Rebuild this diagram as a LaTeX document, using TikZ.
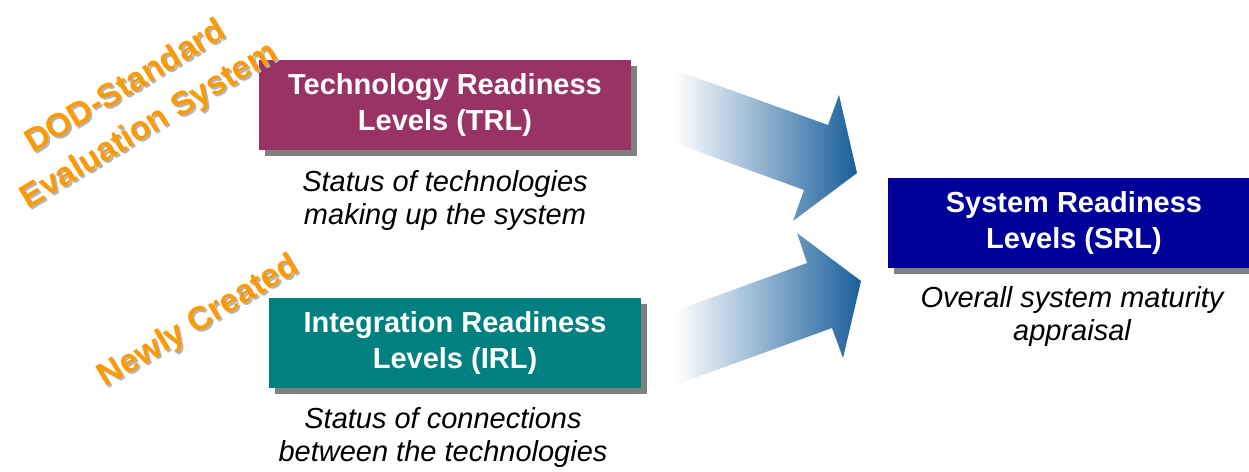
\documentclass[tikz,border=0pt]{standalone}
\usepackage{fontspec}
\setmainfont{Liberation Sans}
\definecolor{trlcol}{HTML}{993366}
\definecolor{irlcol}{HTML}{008080}
\definecolor{srlcol}{HTML}{000099}
\definecolor{shadowcol}{HTML}{808080}
\definecolor{orangecol}{HTML}{FF9900}
\definecolor{stampshadow}{RGB}{180,180,180}
\definecolor{arrowblue}{RGB}{25,95,155}
\definecolor{arrowmid}{RGB}{178,192,210}
\begin{document}
\begin{tikzpicture}[x=1pt,y=-1pt,
  levelbox/.style={minimum width=372pt, minimum height=90pt, inner sep=0pt, text=white,
    align=center, font=\bfseries\fontsize{29}{36}\selectfont,
    preaction={fill=shadowcol, transform canvas={shift={(6pt,-6pt)}}}},
  desc/.style={align=center, font=\itshape\fontsize{29}{33}\selectfont, inner sep=0pt},
  stamp/.style={align=center, font=\bfseries\fontsize{33}{45}\selectfont, rotate=31, inner sep=0pt, text=orangecol},
  stampsh/.style={stamp, text=stampshadow},
  blockarrow/.style={left color=white, middle color=arrowmid, right color=arrowblue}
]
\clip (0,0) rectangle (1249,471);
\fill[white] (0,0) rectangle (1249,471);

% block arrows
\path[blockarrow] (675,70) -- (828,125) -- (839,95) -- (857,173) -- (793,221) -- (804,190) -- (675,143) -- cycle;
\path[blockarrow] (675,311) -- (807,263) -- (797,233) -- (861,281) -- (843,358) -- (832,328) -- (675,385) -- cycle;

% level boxes
\node[levelbox, fill=trlcol] (trl) at (445,105) {Technology Readiness\\Levels (TRL)};
\node[levelbox, fill=irlcol] (irl) at (455,342.5) {Integration Readiness\\Levels (IRL)};
\node[levelbox, fill=srlcol] (srl) at (1074,223) {System Readiness\\Levels (SRL)};

% descriptions
\node[desc] (trldesc) at (445,200) {Status of technologies\\making up the system};
\node[desc] (irldesc) at (443,437) {Status of connections\\between the technologies};
\node[desc] (srldesc) at (1072,316) {Overall system maturity\\appraisal};

% rotated labels with soft shadow
\node[stampsh] (dodsh) at (140,109) {DOD-Standard\\Evaluation System};
\node[stamp] (dod) at (138,107) {DOD-Standard\\Evaluation System};
\node[stampsh] (newsh) at (201,324) {Newly Created};
\node[stamp] (new) at (199,322) {Newly Created};
\end{tikzpicture}
\end{document}
